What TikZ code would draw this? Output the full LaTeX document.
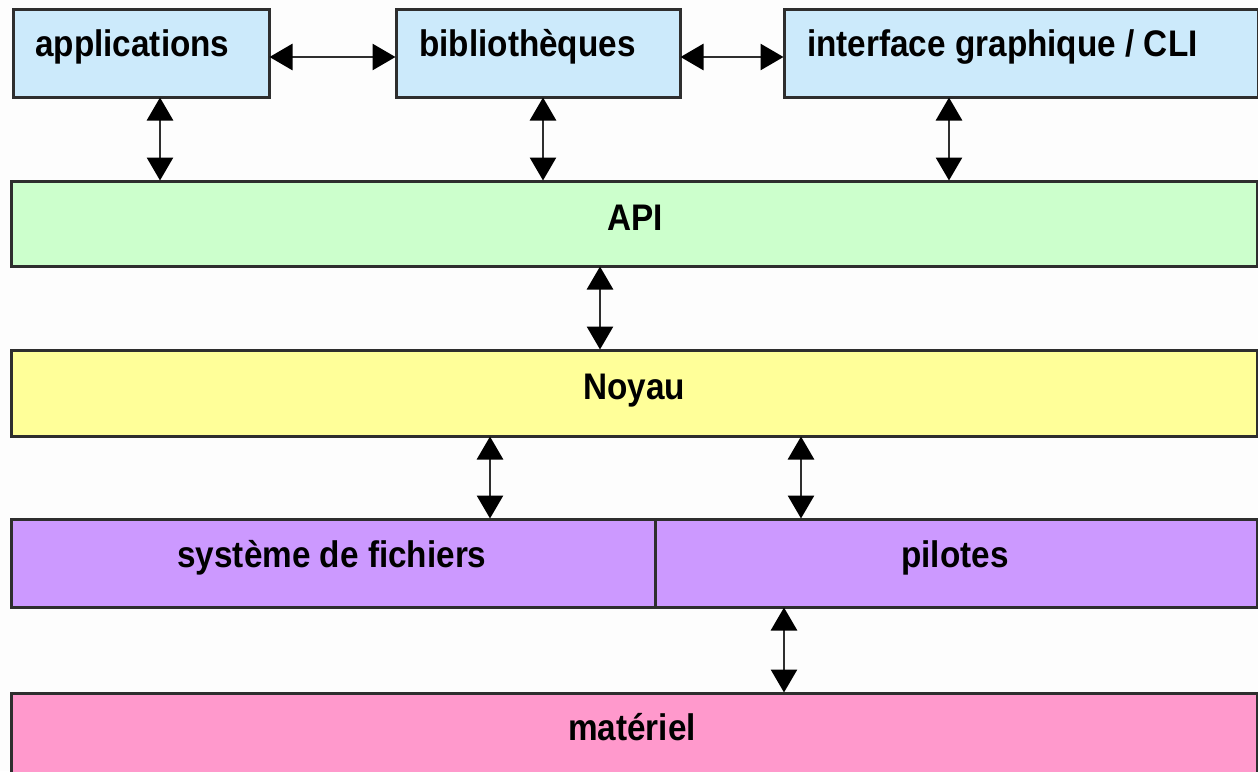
\documentclass[tikz,border=0pt]{standalone}
\usepackage{fontspec}
\newfontfamily\lblfont{Liberation Sans Bold}[FakeStretch=0.9]
\usetikzlibrary{arrows.meta}
\definecolor{bgcol}{HTML}{FDFDFD}
\definecolor{edge}{HTML}{2E2E2E}
\definecolor{userblue}{HTML}{CCEAFB}
\definecolor{apigreen}{HTML}{CCFFCC}
\definecolor{kernyellow}{HTML}{FFFF99}
\definecolor{drvpurple}{HTML}{CC99FF}
\definecolor{hwpink}{HTML}{FF99CC}
\tikzset{
  layerbox/.style={draw=edge, line width=3pt, rectangle, inner sep=0pt, outer sep=0pt, anchor=north west},
  lbl/.style={font=\lblfont\fontsize{37}{42}\selectfont, inner sep=0pt, text=black},
  tipend/.style={Triangle[length=23pt,width=26pt,fill=black,color=black]},
  link/.style={draw=edge, line width=2.8pt, {Triangle[length=23pt,width=26pt,fill=black,color=black]}-{Triangle[length=23pt,width=26pt,fill=black,color=black]}, shorten <=0.5pt, shorten >=0.5pt}
}
\begin{document}
\begin{tikzpicture}[x=1pt,y=-1pt]
\clip (0,0) rectangle (1258,771);
\fill[bgcol] (0,0) rectangle (1258,771);

% user-space blocks
\node[layerbox, fill=userblue, minimum width=256pt, minimum height=88pt] (app) at (13,9) {};
\node[layerbox, fill=userblue, minimum width=284pt, minimum height=88pt] (bib) at (396,9) {};
\node[layerbox, fill=userblue, minimum width=474pt, minimum height=88pt] (gui) at (784,9) {};

% full-width layers
\node[layerbox, fill=apigreen, minimum width=1246pt, minimum height=85pt] (api) at (11,181) {};
\node[layerbox, fill=kernyellow, minimum width=1246pt, minimum height=86pt] (noyau) at (11,350) {};
\node[layerbox, fill=drvpurple, minimum width=644pt, minimum height=88pt] (fs) at (11,519) {};
\node[layerbox, fill=drvpurple, minimum width=602pt, minimum height=88pt] (pil) at (655,519) {};
\node[layerbox, fill=hwpink, minimum width=1246pt, minimum height=90pt] (mat) at (11,693) {};

% labels
\node[lbl, anchor=base west] (tapp) at (35,56) {applications};
\node[lbl, anchor=base west] (tbib) at (419,56) {bibliothèques};
\node[lbl, anchor=base west] (tgui) at (807,56) {interface graphique / CLI};
\node[lbl, anchor=base] (tapi) at (635,230) {API};
\node[lbl, anchor=base] (tnoy) at (634,399) {Noyau};
\node[lbl, anchor=base] (tfs) at (332,567) {système de fichiers};
\node[lbl, anchor=base] (tpil) at (955,567) {pilotes};
\node[lbl, anchor=base] (tmat) at (632,740) {matériel};

% connectors
\draw[link] (app.east |- 0,57) -- (bib.west |- 0,57);
\draw[link] (bib.east |- 0,57) -- (gui.west |- 0,57);
\draw[link] (app.south -| 160,0) -- (api.north -| 160,0);
\draw[link] (bib.south -| 543,0) -- (api.north -| 543,0);
\draw[link] (gui.south -| 949,0) -- (api.north -| 949,0);
\draw[link] (api.south -| 600,0) -- (noyau.north -| 600,0);
\draw[link] (noyau.south -| 490,0) -- (fs.north -| 490,0);
\draw[link] (noyau.south -| 801,0) -- (pil.north -| 801,0);
\draw[link] (pil.south -| 784,0) -- (mat.north -| 784,0);
\end{tikzpicture}
\end{document}
